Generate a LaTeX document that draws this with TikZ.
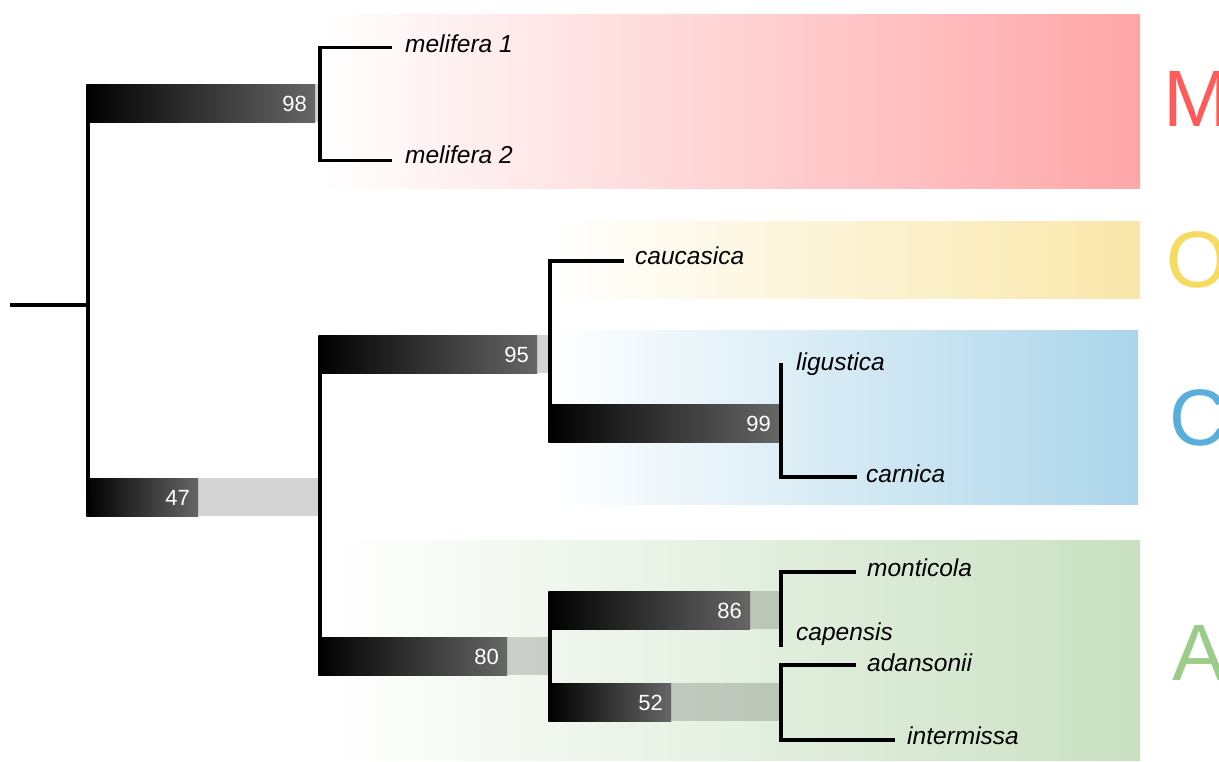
\documentclass[tikz,border=0pt]{standalone}
\usepackage{fontspec}
\setmainfont{Liberation Sans}
\definecolor{redR}{HTML}{FFA6A8}
\definecolor{yelR}{HTML}{F9E7A9}
\definecolor{bluR}{HTML}{ABD5EA}
\definecolor{grnR}{HTML}{C9E1C2}
\definecolor{mcol}{HTML}{FF5B5B}
\definecolor{ocol}{HTML}{F7DA60}
\definecolor{ccol}{HTML}{5AAEDB}
\definecolor{acol}{HTML}{9BCD88}
\newcommand\supportbar[6]{%
  \shade[left color=black,right color=black!60] (#2-1.6,#5-19) rectangle (#4,#5+19);
  \fill[black,fill opacity=0.17] (#4,#5-19) rectangle (#3,#5+19);
  \node[numlbl,anchor=base east] (#1) at (#4-8,#5+8) {#6};
}
\begin{document}
\begin{tikzpicture}[x=1pt,y=-1pt,
  branch/.style={line width=3.2pt,line join=miter},
  numlbl/.style={inner sep=0pt,text=white,font=\fontsize{22}{22}\selectfont},
  taxon/.style={inner sep=0pt,anchor=base west,font=\fontsize{24.5}{24.5}\selectfont\itshape},
  group/.style={inner sep=0pt,anchor=base west,font=\fontsize{80}{80}\selectfont}]
\clip (0,0) rectangle (1219,762);
\fill[white] (0,0) rectangle (1219,762);
% clade bands
\shade[left color=white,right color=redR] (320,15) rectangle (1140,189);
\shade[left color=white,right color=yelR] (549,222) rectangle (1140,299);
\shade[left color=white,right color=bluR] (549,330) rectangle (1138,504);
\shade[left color=white,right color=grnR] (333,540) rectangle (1140,760);
% group letters
\node[group,text=mcol] (gM) at (1163,127) {M};
\node[group,text=ocol] (gO) at (1166,288) {O};
\node[group,text=ccol] (gC) at (1169,445) {C};
\node[group,text=acol] (gA) at (1172,680) {A};
% support bars
\supportbar{b98}{88}{320}{315}{103.5}{98}
\supportbar{b47}{88}{320}{198}{497}{47}
\supportbar{b95}{320}{550}{537}{354}{95}
\supportbar{b80}{320}{550}{507}{656}{80}
\supportbar{b99}{550}{780}{779}{423}{99}
\supportbar{b86}{550}{780}{750}{610}{86}
\supportbar{b52}{550}{780}{671}{702}{52}
% coordinates
\coordinate (root) at (10,305);
\coordinate (n0) at (88,305);
\coordinate (n0a) at (88,103.5);
\coordinate (n0b) at (88,497);
\coordinate (nMa) at (320,47.5);
\coordinate (nMb) at (320,160.5);
\coordinate (m1) at (392,47.5);
\coordinate (m2) at (392,160.5);
\coordinate (n1a) at (320,354);
\coordinate (n1b) at (320,656);
\coordinate (n2a) at (550,261);
\coordinate (n2b) at (550,423);
\coordinate (cau) at (624,261);
\coordinate (n3a) at (781,363);
\coordinate (n3b) at (781,477);
\coordinate (car) at (857,477);
\coordinate (n4a) at (550,610);
\coordinate (n4b) at (550,702);
\coordinate (n5a) at (781,572);
\coordinate (n5b) at (781,647);
\coordinate (mon) at (856,572);
\coordinate (n6a) at (781,665);
\coordinate (n6b) at (781,740);
\coordinate (ada) at (856,665);
\coordinate (int) at (895,740);
% branches
\draw[branch] (root) -- (n0);
\draw[branch] (n0a) -- (n0b);
\draw[branch] (m1) -- (nMa) -- (nMb) -- (m2);
\draw[branch] (n1a) -- (n1b);
\draw[branch] (cau) -- (n2a) -- (n2b);
\draw[branch] (n3a) -- (n3b) -- (car);
\draw[branch] (n4a) -- (n4b);
\draw[branch] (mon) -- (n5a) -- (n5b);
\draw[branch] (ada) -- (n6a) -- (n6b) -- (int);
% taxa
\node[taxon] (t1) at (405,53) {melifera 1};
\node[taxon] (t2) at (405,164) {melifera 2};
\node[taxon] (t3) at (635,265) {caucasica};
\node[taxon] (t4) at (796,370) {ligustica};
\node[taxon] (t5) at (866,482) {carnica};
\node[taxon] (t6) at (867,576) {monticola};
\node[taxon] (t7) at (796,640) {capensis};
\node[taxon] (t8) at (867,671) {adansonii};
\node[taxon] (t9) at (907,744) {intermissa};
\end{tikzpicture}
\end{document}
